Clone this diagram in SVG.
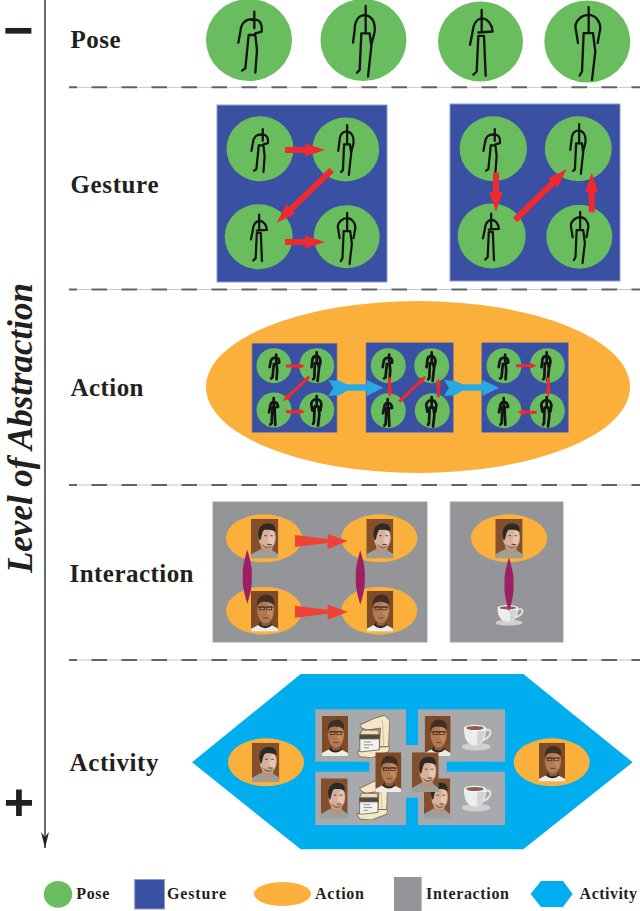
<svg xmlns="http://www.w3.org/2000/svg" width="640" height="911" viewBox="0 0 640 911">
<style>
text{font-family:"Liberation Serif","Times New Roman",serif;font-weight:bold;fill:#231f20}
.lab{font-size:25px}
.leg{font-size:16px}
.pose{fill:#69bd5e}
.gest{fill:#3a50a2;stroke:#8d9bd3;stroke-width:1}
.act{fill:#fbb03b}
.act-g{fill:#3a50a2;stroke:#8a7f8f;stroke-width:.7}
.inter{fill:#939598;stroke:#c9cacc;stroke-width:.8}
.hex{fill:#00aeef}
.pan{fill:#a7a9ac}
.fig{fill:none;stroke:#151313;stroke-linejoin:round;stroke-linecap:round}
.sep{fill:none;stroke:#636466;stroke-width:2;stroke-dasharray:15.5 14.5;stroke-dashoffset:7.5}
.sep0{fill:none;stroke:#c4c6c8;stroke-width:1}
.r{fill:none;stroke:#ee2a2e}
.r6{stroke-width:6;marker-end:url(#rh6)}
.r3{stroke-width:3;marker-end:url(#rh)}
.blue{fill:#27aae1}
.ired{fill:#ef4136}
.pur{fill:#9e1f63}
</style>
<defs>
<filter id="soft" x="-5%" y="-5%" width="110%" height="110%"><feGaussianBlur stdDeviation=".35"/></filter>
<marker id="rh" markerUnits="strokeWidth" markerWidth="2.4" markerHeight="2.2" refX="1" refY="1.1" orient="auto"><path d="M0,0L2.4,1.1L0,2.2z" fill="#ee2a2e"/></marker>
<marker id="rh6" markerUnits="strokeWidth" markerWidth="3.3" markerHeight="2.2" refX="1" refY="1.1" orient="auto"><path d="M0,0L3.3,1.1L0,2.2z" fill="#ee2a2e"/></marker>
<marker id="ah" markerUnits="userSpaceOnUse" markerWidth="10" markerHeight="17" refX="5" refY="16" orient="0"><path d="M1,0L5,5L9,0L5,16z" fill="#231f20"/></marker>
<path id="figA" d="M16-85V-35M16-62C-11-65-24-50-26-25L-32 8M9-60C35-66 40-45 38-25L19-20M-1-15H19M-1-15L-11 85L-21 92M19-15L24 30L19 98"/>
<path id="figB" d="M5-102V-20M5-75C-18-75-28-55-28-30L-33 8M5-75C27-70 34-50 32-25L22 15M-8-20H17M-8-20L-13 90L-21 98M17-20L22 20L12 110"/>
<path id="figC" d="M5-95V-30M5-70C-15-65-20-50-22-30L-30 10M5-70C25-67 35-55 38-30L-5-27M-5-17H12M-5-17L-10 90L-20 100M12-17L17 103"/>
<path id="figD" d="M5-103V-25M5-80C-15-80-33-65-35-45L-27 5M5-80C25-80 40-60 40-40L32 5M-10-25H18M-10-25L-15 90L-22 102M18-25L25 30L15 115"/>
<symbol id="face1" viewBox="0 0 27 40" preserveAspectRatio="none"><g filter="url(#soft)">
<rect width="27" height="40" fill="#84502a"/>
<path d="M0 40V36L9 31H20L27 36V40z" fill="#9aa09c"/>
<path d="M10 27L10 35L16 36L21 33L21 27z" fill="#b9937f"/>
<ellipse cx="16" cy="19" rx="8.500" ry="12" fill="#d8b09a"/>
<path d="M20 10C24 12 24.500 22 21 28L17 22z" fill="#e6c6b2"/>
<path d="M10 25C13 32 19 32 22 26C19 29 14 29 10 25z" fill="#8d7566"/>
<path d="M8 21C5 9 11 4 17 4.500C22 4.500 25 8 24 13C20 10 16 11 13 11C11 13 11 16 9.500 21z" fill="#2c2927"/>
<path d="M13 17h2.500M19 17h2.500M16 26h4.500" stroke="#4a352b" stroke-width=".9" fill="none"/>
</g></symbol>
<symbol id="face2" viewBox="0 0 27 40" preserveAspectRatio="none"><g filter="url(#soft)">
<rect width="27" height="40" fill="#7f4c26"/>
<path d="M0 40V37L8 33H19L27 37V40z" fill="#eeece6"/>
<path d="M7 33.500C11 37.500 17 37.500 21 33.500L18 30H10z" fill="#2d2423"/>
<path d="M10 28H19V33C16 35 12 35 10 33z" fill="#8f5a38"/>
<ellipse cx="14.500" cy="18.500" rx="8.500" ry="13" fill="#b17a52"/>
<path d="M16 9C22 10 23 20 20 27L16 22z" fill="#c08a62"/>
<path d="M6 15C5.500 7 10 3.500 15 3.500C20 3.500 24 7 23 14C20 10 11 9.500 8 12C7 13 7 15 6 15z" fill="#3c2e26"/>
<path d="M6.500 16H22" stroke="#3a2a20" stroke-width=".8" fill="none"/>
<rect x="8.500" y="15.500" width="5" height="3" fill="none" stroke="#3a2a20" stroke-width=".7"/><rect x="15.500" y="15.500" width="5" height="3" fill="none" stroke="#3a2a20" stroke-width=".7"/>
<path d="M12 26.500h5" stroke="#6a4028" stroke-width=".9" fill="none"/>
</g></symbol>
<symbol id="cup" viewBox="0 0 28 24" preserveAspectRatio="none"><g filter="url(#soft)">
<ellipse cx="13" cy="20.500" rx="13" ry="3.100" fill="#cfd0d2"/>
<path d="M21 7C28 4 28 12 19 15" fill="none" stroke="#e3e3e3" stroke-width="1.800"/>
<path d="M2 5C2 14 5 19.500 12 19.500C19 19.500 22 14 22 5z" fill="#eceded"/>
<path d="M14 7C18 7 21 7 21 8C20 14 18 18 14 19z" fill="#d2d3d5"/>
<ellipse cx="12" cy="5" rx="10" ry="2.800" fill="#f4f4f4"/>
<ellipse cx="12" cy="5" rx="8" ry="1.700" fill="#8a6048"/>
</g></symbol>
<symbol id="maker" viewBox="0 0 32 44" preserveAspectRatio="none"><g filter="url(#soft)" stroke="#6b5a44" stroke-width=".8" stroke-linejoin="round">
<path d="M3 11L17 4L27 1L32 6L31 33L22 33L23 14L10 16L5 14z" fill="#f5e6c8"/>
<path d="M25 6L26 32" stroke="#c9b48c" fill="none"/>
<path d="M5 16H21L22 21H3z" fill="#efdcb8"/>
<path d="M3 21H22V39H3z" fill="#f2f2f0"/>
<path d="M3 21H22V25H3z" fill="#4a4846"/>
<path d="M7 28h7M7 31h9M7 34h5" stroke="#777" fill="none"/>
<path d="M0 37L5 38L22 36L22 33L32 33L31 38L15 44L3 43z" fill="#f5e6c8"/>
</g></symbol>
<path id="spin" d="M0-27C2-20 4-14 4.500-6L4.500 6C4 14 2 20 0 27C-2 20-4 14-4.500 6L-4.500-6C-4-14-2-20 0-27z"/>
<path id="ia" d="M0-6L32.700-2V-7L52.700 0L32.700 8V2L0 6z"/>
<path id="ba" d="M0 0L11.700 1L18.400 4.300H38.400V0L55 7.700L38.400 16V10.700H18.400L11.700 15L0 16L5 7.700z"/>
</defs>

<g id="axis">
<line x1="45" y1="0" x2="45" y2="848" stroke="#58595b" stroke-width="1.800" marker-end="url(#ah)"/>
<text id="minus" x="18.500" y="48" text-anchor="middle" style="font-family:'Liberation Sans',sans-serif;font-size:52px">−</text>
<text id="plus" x="19" y="820" text-anchor="middle" style="font-family:'Liberation Sans',sans-serif;font-size:52px">+</text>
<text transform="translate(32,573) rotate(-90)" font-size="35" font-style="italic" textLength="290">Level of Abstraction</text>
</g>

<g id="separators">
<path class="sep0" d="M69 87.300H640M69 289.500H640M69 485H640M69 660H640"/>
<path class="sep" d="M69 87.300H640M69 289.500H640M69 485H640M69 660H640"/>
</g>

<g id="labels">
<text class="lab" x="70.500" y="48" textLength="50">Pose</text>
<text class="lab" x="70.500" y="193" textLength="88">Gesture</text>
<text class="lab" x="70.500" y="396" textLength="73">Action</text>
<text class="lab" x="69.500" y="581.500" textLength="124">Interaction</text>
<text class="lab" x="69.500" y="771" textLength="89">Activity</text>
</g>

<g id="pose-row">
<g id="pose-1"><ellipse class="pose" cx="249" cy="40" rx="43" ry="41"/><use href="#figA" class="fig" stroke-width="7" transform="translate(249,40) scale(.333)"/></g>
<g id="pose-2"><ellipse class="pose" cx="363.500" cy="40" rx="43" ry="41"/><use href="#figB" class="fig" stroke-width="7" transform="translate(364,40) scale(.333)"/></g>
<g id="pose-3"><ellipse class="pose" cx="480.500" cy="41.500" rx="42.500" ry="40"/><use href="#figC" class="fig" stroke-width="7" transform="translate(480,41.500) scale(.333)"/></g>
<g id="pose-4"><ellipse class="pose" cx="587.300" cy="41.500" rx="43" ry="41"/><use href="#figD" class="fig" stroke-width="7" transform="translate(587,41.500) scale(.333)"/></g>
</g>

<g id="gesture-1">
<rect class="gest" x="217" y="105" width="170" height="177"/>
<ellipse class="pose" cx="260" cy="148.700" rx="33.500" ry="32.500"/><ellipse class="pose" cx="345.700" cy="149.500" rx="33.500" ry="32"/><ellipse class="pose" cx="258.700" cy="236.700" rx="34" ry="32.500"/><ellipse class="pose" cx="346.700" cy="236.700" rx="33" ry="31.500"/>
<use href="#figA" class="fig" stroke-width="9.500" transform="translate(259,149) scale(.235)"/>
<use href="#figB" class="fig" stroke-width="9.500" transform="translate(346,149) scale(.235)"/>
<use href="#figC" class="fig" stroke-width="9.500" transform="translate(258,237) scale(.235)"/>
<use href="#figD" class="fig" stroke-width="9.500" transform="translate(346,237) scale(.235)"/>
</g>
<g id="gesture-2">
<rect class="gest" x="450" y="104" width="170" height="177"/>
<ellipse class="pose" cx="493.300" cy="148.700" rx="33.700" ry="32.500"/><ellipse class="pose" cx="578.300" cy="148.700" rx="33.500" ry="32.500"/><ellipse class="pose" cx="491.700" cy="236" rx="34" ry="32.500"/><ellipse class="pose" cx="579.300" cy="236.700" rx="33" ry="32"/>
<use href="#figA" class="fig" stroke-width="9.500" transform="translate(491,149) scale(.235)"/>
<use href="#figB" class="fig" stroke-width="9.500" transform="translate(578,148) scale(.235)"/>
<use href="#figC" class="fig" stroke-width="9.500" transform="translate(490,236) scale(.235)"/>
<use href="#figD" class="fig" stroke-width="9.500" transform="translate(579,236) scale(.235)"/>
</g>

<g id="action">
<ellipse class="act" cx="418" cy="387" rx="212" ry="86"/>
<g id="action-g1"><rect class="act-g" x="252" y="343.300" width="85" height="89"/>
<circle class="pose" cx="274" cy="365.700" r="17.500"/><circle class="pose" cx="316.700" cy="365.700" r="17.500"/><circle class="pose" cx="274" cy="410" r="17.500"/><circle class="pose" cx="316.700" cy="410" r="17.500"/>
<use href="#figA" class="fig" stroke-width="20" transform="translate(274,366) scale(.135)"/><use href="#figB" class="fig" stroke-width="20" transform="translate(316,366) scale(.135)"/><use href="#figC" class="fig" stroke-width="20" transform="translate(273,411) scale(.135)"/><use href="#figD" class="fig" stroke-width="20" transform="translate(316,410) scale(.135)"/></g>
<g id="action-g2"><rect class="act-g" x="366" y="342.700" width="87.300" height="89.600"/>
<circle class="pose" cx="388.300" cy="365.700" r="17.500"/><circle class="pose" cx="431.700" cy="365.700" r="17.500"/><circle class="pose" cx="388.300" cy="410.700" r="17.500"/><circle class="pose" cx="432.300" cy="410.700" r="17.500"/>
<use href="#figA" class="fig" stroke-width="20" transform="translate(387,366) scale(.135)"/><use href="#figB" class="fig" stroke-width="20" transform="translate(431,366) scale(.135)"/><use href="#figC" class="fig" stroke-width="20" transform="translate(387,412) scale(.135)"/><use href="#figD" class="fig" stroke-width="20" transform="translate(431,411) scale(.135)"/></g>
<g id="action-g3"><rect class="act-g" x="481.700" y="342.700" width="86.600" height="89.600"/>
<circle class="pose" cx="504" cy="365.700" r="17.500"/><circle class="pose" cx="547.300" cy="365.700" r="17.500"/><circle class="pose" cx="504" cy="410.700" r="17.500"/><circle class="pose" cx="547.300" cy="410.700" r="17.500"/>
<use href="#figA" class="fig" stroke-width="20" transform="translate(503,366) scale(.135)"/><use href="#figB" class="fig" stroke-width="20" transform="translate(546,366) scale(.135)"/><use href="#figC" class="fig" stroke-width="20" transform="translate(503,411) scale(.135)"/><use href="#figD" class="fig" stroke-width="20" transform="translate(546,411) scale(.135)"/></g>
</g>

<g id="interaction-1">
<rect class="inter" x="212.700" y="501.700" width="214.600" height="140.600"/>
<ellipse class="act" cx="264" cy="538.300" rx="38" ry="24"/><ellipse class="act" cx="379.300" cy="538.300" rx="38" ry="24"/><ellipse class="act" cx="264" cy="610.700" rx="38" ry="24"/><ellipse class="act" cx="379.300" cy="610.700" rx="38" ry="24"/>
<use href="#face1" x="251" y="519" width="27.300" height="39.300"/><use href="#face1" x="366.300" y="519" width="27" height="39.300"/>
<use href="#face2" x="251" y="591" width="27.300" height="40.700"/><use href="#face2" x="366.700" y="591" width="26.600" height="40.700"/>
</g>
<g id="interaction-2">
<rect class="inter" x="450" y="501.700" width="113.300" height="140.600"/>
<ellipse class="act" cx="509" cy="538.300" rx="38" ry="24"/>
<use href="#face1" x="495.300" y="519" width="27.300" height="39.300"/>
<use href="#cup" x="495.500" y="603" width="29" height="23"/>
</g>

<g id="activity">
<path class="hex" d="M192 762.300L300.700 674H523.300L632.700 762.300L523.300 849.300H300.700z"/>
<g id="activity-left"><ellipse class="act" cx="266" cy="762.300" rx="38" ry="24"/><use href="#face1" x="252" y="742.700" width="27.300" height="39"/></g>
<g id="activity-right"><ellipse class="act" cx="551.700" cy="762.300" rx="38" ry="24"/><use href="#face2" x="539" y="742.700" width="26" height="39"/></g>
<g id="activity-panels">
<rect class="pan" x="315.300" y="709.300" width="90.700" height="52.400"/><rect class="pan" x="418" y="709.300" width="87" height="52.400"/><rect class="pan" x="315.300" y="771.700" width="90.700" height="53.300"/><rect class="pan" x="418" y="771.700" width="87" height="53.300"/><rect class="pan" x="369.300" y="745" width="77.400" height="52.700"/>
<use href="#face2" x="322" y="716" width="26" height="40"/><use href="#maker" x="356.700" y="714.300" width="33" height="43.400"/>
<use href="#face2" x="424.700" y="716" width="26" height="40"/><use href="#cup" x="461.700" y="722" width="31" height="29"/>
<use href="#face1" x="321" y="778.300" width="26.700" height="39.700"/><use href="#maker" x="356.700" y="778" width="31" height="42"/>
<use href="#face1" x="424" y="778.300" width="26.300" height="39.700"/><use href="#cup" x="461.700" y="783" width="31" height="29"/>
<use href="#face2" x="375.300" y="752.300" width="26" height="39.700"/><use href="#face1" x="412" y="752.300" width="26.700" height="39.700"/>
</g>
</g>

<g id="legend">
<g id="legend-pose"><ellipse class="pose" cx="58" cy="894.300" rx="14.200" ry="13.400"/><text class="leg" x="76.300" y="899.300" textLength="33">Pose</text></g>
<g id="legend-gesture"><rect class="gest" x="134.700" y="879.500" width="29.800" height="29.500"/><text class="leg" x="167" y="899.300" textLength="59">Gesture</text></g>
<g id="legend-action"><ellipse class="act" cx="282.500" cy="894" rx="28.500" ry="12"/><text class="leg" x="315" y="899.300" textLength="49">Action</text></g>
<g id="legend-interaction"><rect x="394" y="877" width="27.600" height="34" fill="#939598"/><text class="leg" x="426" y="899.300" textLength="83">Interaction</text></g>
<g id="legend-activity"><path class="hex" d="M530.600 894L541 881H563L572.600 894L563 907H541z"/><text class="leg" x="579.600" y="899.300" textLength="57.500">Activity</text></g>
</g>

<g id="connectors">
<line class="r r6" x1="285" y1="150" x2="311.200" y2="150"/>
<line class="r r6" x1="331.700" y1="170" x2="286.700" y2="213.100"/>
<line class="r r6" x1="285" y1="242" x2="311.200" y2="242"/>
<line class="r r6" x1="496" y1="172.700" x2="496" y2="197.900"/>
<line class="r r6" x1="515" y1="220" x2="556.800" y2="179"/>
<line class="r r6" x1="591.700" y1="212.300" x2="591.700" y2="186.500"/>
<line class="r r3" x1="286" y1="366" x2="300.800" y2="366"/>
<line class="r r3" x1="309.300" y1="376.700" x2="286.400" y2="398.100"/>
<line class="r r3" x1="286" y1="411.700" x2="301.100" y2="411.700"/>
<line class="r r3" x1="389.300" y1="377.300" x2="389.900" y2="393.100"/>
<line class="r r3" x1="399.300" y1="401.700" x2="423" y2="378.900"/>
<line class="r r3" x1="438.300" y1="397.300" x2="438.300" y2="382.500"/>
<line class="r r3" x1="516" y1="365.700" x2="532.500" y2="365.700"/>
<line class="r r3" x1="548.300" y1="377.300" x2="548.300" y2="392.500"/>
<line class="r r3" x1="536.700" y1="412.300" x2="521.500" y2="412.300"/>
<use href="#ba" class="blue" x="328.300" y="380"/>
<use href="#ba" class="blue" x="444" y="380"/>
<use href="#ia" class="ired" x="295" y="541"/>
<use href="#ia" class="ired" x="295" y="611.700"/>
<use href="#spin" class="pur" x="247.300" y="576.700"/>
<use href="#spin" class="pur" x="360.300" y="577.500"/>
<use href="#spin" class="pur" x="509" y="584.500"/>
</g>
</svg>
